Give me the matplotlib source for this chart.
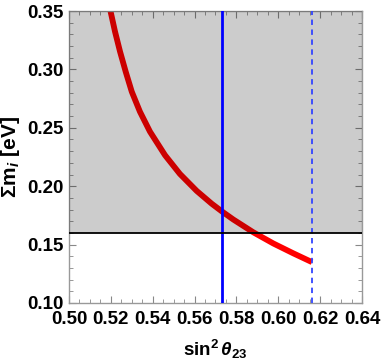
import matplotlib
matplotlib.use('Agg')
import matplotlib.pyplot as plt
from matplotlib.ticker import MultipleLocator

plt.rcParams['font.family'] = ['Liberation Sans', 'DejaVu Sans']
plt.rcParams['mathtext.fontset'] = 'custom'
plt.rcParams['mathtext.rm'] = 'Liberation Sans:bold'
plt.rcParams['mathtext.it'] = 'Liberation Sans:bold:italic'
plt.rcParams['mathtext.bf'] = 'Liberation Sans:bold'

# red band (centre of the scatter band)
s23 = [0.5192, 0.5199, 0.5220, 0.5244, 0.5271, 0.5300, 0.5339, 0.5387,
       0.5459, 0.5530, 0.5610, 0.5682, 0.5730, 0.5785, 0.5881, 0.5976,
       0.6072, 0.6161]
msum = [0.354, 0.3494, 0.3323, 0.3152, 0.2980, 0.2809, 0.2638, 0.2467,
        0.2265, 0.2105, 0.1960, 0.1850, 0.1785, 0.1715, 0.1605, 0.1510,
        0.1425, 0.1350]

bestfit = 0.573      # solid blue
upper3s = 0.616      # dashed blue
cosmo_bound = 0.16   # black line, shaded above

fig = plt.figure(figsize=(3.82, 3.61), dpi=100)
ax = fig.add_axes([0.1806, 0.1607, 0.767, 0.8088])

ax.plot(s23, msum, color='#ff0000', lw=4.2, solid_capstyle='butt',
        solid_joinstyle='round', zorder=2)
ax.axhspan(cosmo_bound, 0.40, color='black', alpha=0.2, lw=0, zorder=3)
ax.axvline(bestfit, color='#0000ff', lw=2.0, zorder=4)
ax.axvline(upper3s, color='#3344ff', lw=1.3, ls=(0, (3, 2.5)), zorder=4)
ax.axhline(cosmo_bound, color='black', lw=1.3, zorder=5)

ax.set_xlim(0.50, 0.64)
ax.set_ylim(0.10, 0.35)
ax.xaxis.set_major_locator(MultipleLocator(0.02))
ax.xaxis.set_minor_locator(MultipleLocator(0.005))
ax.yaxis.set_major_locator(MultipleLocator(0.05))
ax.yaxis.set_minor_locator(MultipleLocator(0.01))
ax.xaxis.set_major_formatter(plt.FormatStrFormatter('%.2f'))
ax.yaxis.set_major_formatter(plt.FormatStrFormatter('%.2f'))

ax.tick_params(which='both', direction='in', top=True, right=True, color='#888888')
ax.tick_params(which='major', length=5, width=0.8, labelsize=13.5)
ax.tick_params(axis='x', which='major', pad=6)
ax.tick_params(axis='y', which='major', pad=4)
ax.tick_params(which='minor', length=3, width=0.6)
for lab in ax.get_xticklabels() + ax.get_yticklabels():
    lab.set_fontweight('bold')
for sp in ax.spines.values():
    sp.set_color('#999999')
    sp.set_linewidth(1.0)

ax.set_xlabel(r'sin$^{2}\,\theta_{23}$', fontsize=13.5, fontweight='bold', labelpad=7)
ax.set_ylabel(r'Σm$_{i}$ [eV]', fontsize=15, fontweight='bold', labelpad=4)

fig.savefig('out.png', dpi=100)
